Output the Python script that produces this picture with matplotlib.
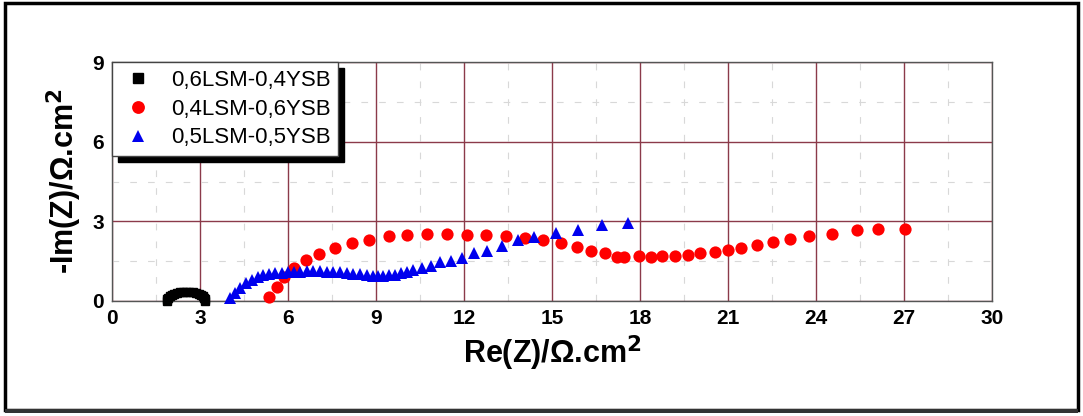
import matplotlib
matplotlib.use("Agg")
import matplotlib.pyplot as plt
from matplotlib.patches import Rectangle

# ---- data ----
black_x = [1.88, 1.89, 1.92, 1.97, 2.03, 2.11, 2.20, 2.31, 2.42, 2.53,
           2.64, 2.75, 2.86, 2.95, 3.03, 3.09, 3.14, 3.17, 3.18]
black_y = [0.00, 0.06, 0.12, 0.175, 0.225, 0.27, 0.30, 0.33, 0.345, 0.35,
           0.345, 0.33, 0.30, 0.27, 0.225, 0.175, 0.12, 0.06, 0.00]

red_x = [5.36, 5.61, 5.88, 6.22, 6.61, 7.06, 7.60, 8.17, 8.77, 9.43, 10.07, 10.75, 11.43, 12.09, 12.74,
         13.43, 14.08, 14.71, 15.30, 15.84, 16.32, 16.79, 17.21, 17.47, 17.98, 18.37, 18.76, 19.21, 19.63,
         20.06, 20.54, 20.99, 21.45, 21.99, 22.53, 23.12, 23.77, 24.55, 25.40, 26.13, 27.04]
red_y = [0.14, 0.54, 0.89, 1.24, 1.53, 1.78, 1.99, 2.17, 2.31, 2.43, 2.50, 2.52, 2.52, 2.50, 2.50,
         2.45, 2.39, 2.29, 2.17, 2.02, 1.88, 1.79, 1.66, 1.66, 1.69, 1.66, 1.70, 1.71, 1.74,
         1.79, 1.83, 1.91, 1.99, 2.09, 2.21, 2.34, 2.45, 2.54, 2.66, 2.71, 2.71]

blue_x = [4.02, 4.19, 4.36, 4.57, 4.76, 4.97, 5.16, 5.36, 5.57, 5.78, 5.99, 6.21, 6.41, 6.64, 6.86,
          7.09, 7.32, 7.55, 7.77, 8.00, 8.23, 8.46, 8.68, 8.91, 9.08, 9.25, 9.46, 9.65, 9.84, 10.05,
          10.27, 10.56, 10.87, 11.18, 11.55, 11.94, 12.34, 12.77, 13.29, 13.83, 14.39, 15.13, 15.90,
          16.69, 17.58]
blue_y = [0.10, 0.31, 0.50, 0.67, 0.79, 0.89, 0.97, 1.02, 1.04, 1.07, 1.09, 1.09, 1.11, 1.12, 1.12,
          1.12, 1.11, 1.09, 1.08, 1.06, 1.03, 1.01, 0.98, 0.96, 0.93, 0.94, 0.97, 0.99, 1.04, 1.09,
          1.17, 1.26, 1.33, 1.45, 1.51, 1.63, 1.80, 1.89, 2.08, 2.28, 2.40, 2.55, 2.68,
          2.87, 2.93]

labels = ["0,6LSM-0,4YSB", "0,4LSM-0,6YSB", "0,5LSM-0,5YSB"]
x_ticks = [0, 3, 6, 9, 12, 15, 18, 21, 24, 27, 30]
y_ticks = [0, 3, 6, 9]

plt.rcParams['font.family'] = ['Liberation Sans', 'DejaVu Sans']

fig = plt.figure(figsize=(10.83, 4.16), dpi=100)
fig.patch.set_facecolor('white')

# outer frame with shadow-like thicker bottom
fig.patches.append(Rectangle((5/1083, 1 - 410/416), 1073/1083, 407/416, transform=fig.transFigure,
                             fill=False, edgecolor='black', linewidth=2.5))
fig.patches.append(Rectangle((5/1083, 1 - 413/416), 1073/1083, 4/416, transform=fig.transFigure,
                             facecolor='#333333', edgecolor='none'))

ax = fig.add_axes([112/1083, 1 - 301/416, 880/1083, 239/416])
ax.set_xlim(0, 30)
ax.set_ylim(0, 9)
ax.set_xticks(x_ticks)
ax.set_yticks(y_ticks)
ax.set_xticks([1.5 + 3 * i for i in range(10)], minor=True)
ax.set_yticks([1.5, 4.5, 7.5], minor=True)
ax.grid(True, which='major', color='#8b3a4a', linewidth=1.0)
ax.grid(True, which='minor', color='#d8d8d8', linewidth=0.8, linestyle=(0, (6, 10)))
ax.set_axisbelow(True)
ax.tick_params(which='both', length=0, pad=6)
for lab in ax.get_xticklabels() + ax.get_yticklabels():
    lab.set_fontweight('bold')
    lab.set_fontsize(15)
for s in ax.spines.values():
    s.set_color('#555555')
    s.set_linewidth(1.0)

ax.plot(black_x, black_y, 's', color='black', markersize=5.5, label=labels[0], clip_on=False, zorder=3)
ax.plot(red_x, red_y, 'o', color='#ff0000', markersize=8.8, markeredgewidth=0, label=labels[1], clip_on=False, zorder=3)
ax.plot(blue_x, blue_y, '^', color='#0000ee', markersize=8.8, markeredgewidth=0, label=labels[2], clip_on=False, zorder=4)

ax.set_xlabel("Re(Z)/\u03a9.cm$^\\mathbf{2}$", fontsize=22, fontweight='bold', labelpad=4)
ax.set_ylabel("-Im(Z)/\u03a9.cm$^\\mathbf{2}$", fontsize=22, fontweight='bold', labelpad=6)

leg = ax.legend(loc='upper left', bbox_to_anchor=(0.0, 1.0), borderaxespad=0.0,
                frameon=True, fancybox=False,
                shadow={'color': 'black', 'alpha': 1.0, 'ox': 4, 'oy': -4}, prop={'size': 16},
                handletextpad=0.7, borderpad=0.35, labelspacing=0.35, handlelength=1.6,
                markerscale=1.05)
for h in leg.legend_handles[:1]:
    h.set_markersize(7)
leg.get_frame().set_edgecolor('#444444')
leg.get_frame().set_linewidth(1.0)
leg.get_frame().set_facecolor('white')
leg.get_frame().set_alpha(1.0)
leg.set_zorder(10)

fig.savefig("out.png", dpi=100)
